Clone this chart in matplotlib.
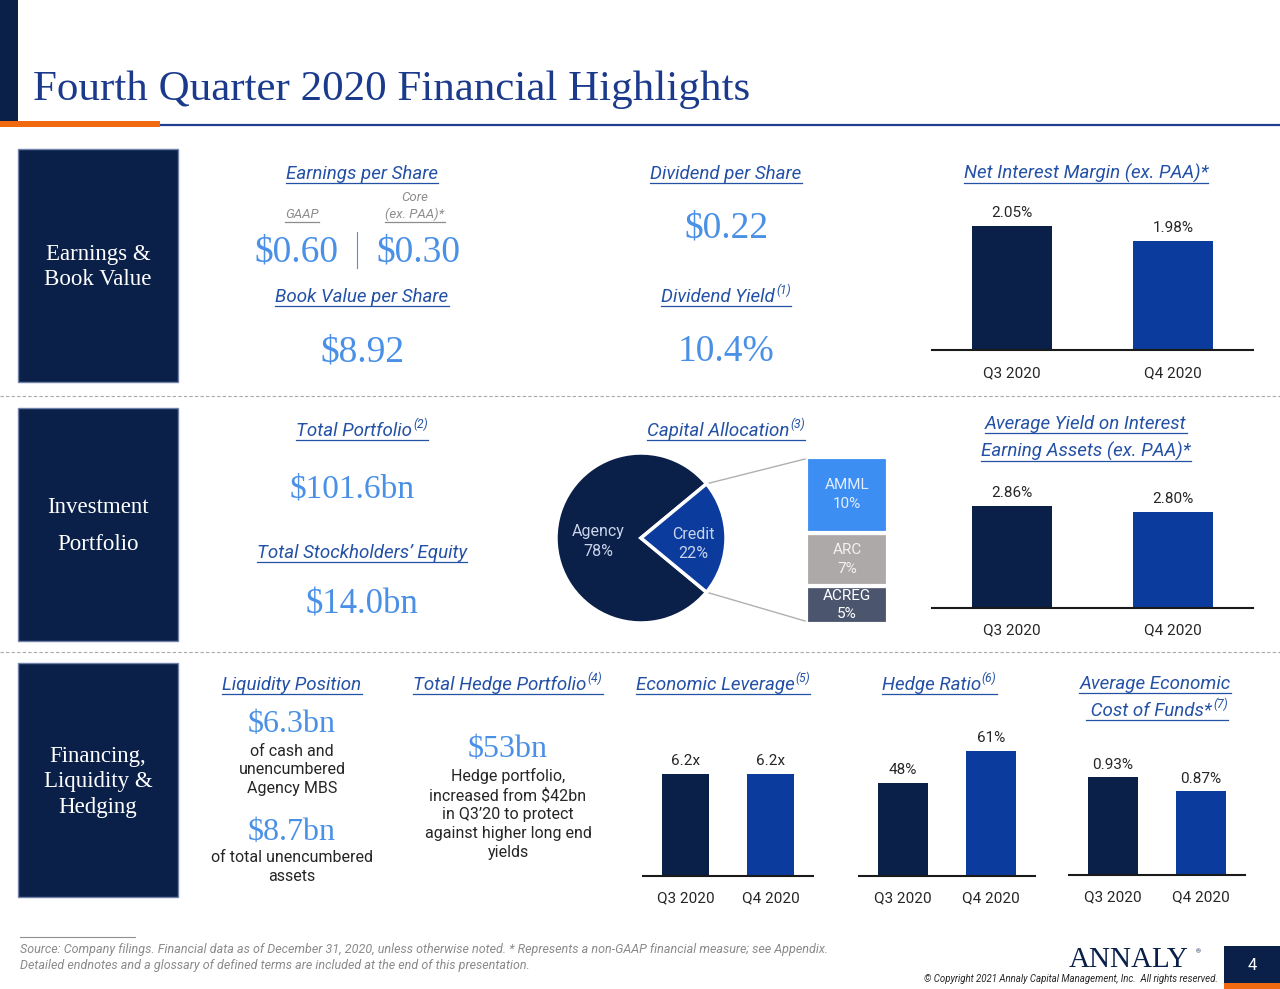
import math
import matplotlib
matplotlib.use('Agg')
import matplotlib.pyplot as plt
from matplotlib.patches import Rectangle

W, H = 1280, 989

NAVY = '#0a2049'
BLUE = '#0b3b9c'
HEAD = '#2451a6'
VALUE = '#4a90e6'
TITLE = '#1b3a8c'
ORANGE = '#f26a10'
TEXT = '#262626'
GRAY = '#8c8c8c'

SANS = ['Roboto', 'DejaVu Sans']
SERIF = ['Liberation Serif', 'DejaVu Serif']

# data
quarters = ['Q3 2020', 'Q4 2020']
nim = [2.05, 1.98]
avg_yield = [2.86, 2.80]
leverage = [6.2, 6.2]
hedge_ratio = [48, 61]
cost_funds = [0.93, 0.87]

alloc_labels = ['Agency', 'Credit']
alloc_values = [78, 22]
credit_labels = ['AMML', 'ARC', 'ACREG']
credit_values = [10, 7, 5]
credit_colors = ['#3d8ef2', '#ada9a8', '#4b566e']
credit_text = ['#e3edff', '#f2f2f2', '#ffffff']

fig = plt.figure(figsize=(W / 100, H / 100), dpi=100)
bg = fig.add_axes([0, 0, 1, 1])
bg.set_xlim(0, W)
bg.set_ylim(H, 0)
bg.axis('off')
r = fig.canvas.get_renderer()


def px_axes(x0, y0, x1, y1):
    return fig.add_axes([x0 / W, 1 - y1 / H, (x1 - x0) / W, (y1 - y0) / H])


def width_of(t):
    return t.get_window_extent(r).width


def heading(x, y, main, sup=None, size=13.5, color=HEAD, under=True):
    t = bg.text(0, y, main, fontsize=size, style='italic', color=color,
                family=SANS, va='baseline')
    w = width_of(t)
    ws = 0
    s = None
    if sup:
        s = bg.text(0, y - size * 0.6, sup, fontsize=size * 0.65, style='italic',
                    color=color, family=SANS, va='baseline')
        ws = width_of(s) + 1
    x0 = x - (w + ws) / 2
    t.set_x(x0)
    if s is not None:
        s.set_x(x0 + w + 1)
    if under:
        bg.plot([x0, x0 + w + ws], [y + 3.5, y + 3.5], color=color, lw=0.9)


def value(x, y, s, size=27):
    bg.text(x, y, s, fontsize=size, color=VALUE, family=SERIF,
            ha='center', va='baseline')


def body(x, y, s, size=11.5):
    bg.text(x, y, s, fontsize=size, color=TEXT, family=SANS, ha='center',
            va='center', linespacing=1.33)


def bar_chart(x0, x1, base, ylim, vals, fmt, width, pad=11):
    ax = px_axes(x0, base - 150, x1, base)
    xs = list(range(len(vals)))
    bars = ax.bar(xs, vals, width=width, color=[NAVY, BLUE])
    ax.set_xlim(-0.5, len(vals) - 0.5)
    ax.set_ylim(*ylim)
    for sp in ['top', 'right', 'left']:
        ax.spines[sp].set_visible(False)
    ax.spines['bottom'].set_linewidth(1.5)
    ax.spines['bottom'].set_color('#1a1a1a')
    ax.set_yticks([])
    ax.set_xticks(xs, quarters)
    ax.tick_params(axis='x', length=0, pad=pad, labelsize=11, labelcolor=TEXT)
    for lab in ax.get_xticklabels():
        lab.set_family(SANS)
    for b, v in zip(bars, vals):
        ax.annotate(fmt.format(v), (b.get_x() + b.get_width() / 2, v),
                    xytext=(0, 4), textcoords='offset points', ha='center',
                    va='bottom', fontsize=11, color=TEXT, family=SANS)
    ax.patch.set_alpha(0)
    return ax


# header band
bg.add_patch(Rectangle((0, 0), 18, 121, color=NAVY, lw=0))
bg.plot([160, W], [124.5, 124.5], color='#1f3f8f', lw=1.6, solid_capstyle='butt')
bg.add_patch(Rectangle((0, 121), 160, 6, color=ORANGE, lw=0))
bg.text(33, 100, 'Fourth Quarter 2020 Financial Highlights', fontsize=31,
        color=TITLE, family=SERIF, va='baseline')

# section boxes
sections = [
    (149, 382, 'Earnings &\nBook Value', 1.26, 267),
    (408, 641, 'Investment\nPortfolio', 1.98, 526),
    (663, 897, 'Financing,\nLiquidity &\nHedging', 1.31, 782),
]
for y0, y1, label, ls, yc in sections:
    bg.add_patch(Rectangle((18, y0), 160, y1 - y0, facecolor=NAVY,
                           edgecolor='#7182a8', lw=1))
    bg.text(98, yc, label, fontsize=16.5, color='white', family=SERIF,
            ha='center', va='center', linespacing=ls)

for y in [396, 652]:
    bg.plot([0, W], [y, y], color='#a8a8a8', lw=0.8, ls=(0, (3, 2)))

# row 1
heading(362, 179, 'Earnings per Share')
bg.text(415, 201, 'Core', fontsize=9.5, style='italic', color=GRAY,
        family=SANS, ha='center', va='baseline')
heading(302, 218, 'GAAP', size=9.5, color=GRAY)
heading(415, 218, '(ex. PAA)*', size=9.5, color=GRAY)
value(296, 262, '$0.60')
value(418, 262, '$0.30')
bg.plot([357, 357], [232, 268], color=VALUE, lw=0.8)
heading(362, 302, 'Book Value per Share')
value(362, 361, '$8.92')

heading(726, 179, 'Dividend per Share')
value(726, 238, '$0.22')
heading(726, 302, 'Dividend Yield', '(1)')
value(726, 361, '10.4%')

heading(1086, 179, 'Net Interest Margin (ex. PAA)*')
bar_chart(932, 1253, 350, (1.47, 1.47 + 150 / 214), nim, '{:.2f}%', 0.5,
          pad=12)

# row 2
heading(362, 436, 'Total Portfolio', '(2)')
value(352, 497, '$101.6bn', size=24)
heading(362, 558, 'Total Stockholders\u2019 Equity')
value(362, 614, '$14.0bn', size=25)

heading(726, 436, 'Capital Allocation', '(3)')
half = alloc_values[1] * 3.6 / 2
pax = px_axes(556, 453, 726, 623)
pax.pie(alloc_values, colors=[NAVY, BLUE], startangle=half, counterclock=True,
        wedgeprops=dict(edgecolor='white', linewidth=2.5))
pax.set_xlim(-1, 1)
pax.set_ylim(-1, 1)
pax.text(-0.5, -0.04, f'{alloc_labels[0]}\n{alloc_values[0]}%', fontsize=11.5,
         color='#c9d4ea', family=SANS, ha='center', va='center', linespacing=1.35)
pax.text(0.62, -0.07, f'{alloc_labels[1]}\n{alloc_values[1]}%', fontsize=11.5,
         color='#c9d4ea', family=SANS, ha='center', va='center', linespacing=1.35)

cx, cy, rad = 641, 538, 85
a = math.radians(half)
bg.plot([cx + rad * math.cos(a), 805], [cy - rad * math.sin(a), 459],
        color='#b0b0b0', lw=1)
bg.plot([cx + rad * math.cos(a), 805], [cy + rad * math.sin(a), 621],
        color='#b0b0b0', lw=1)

sax = px_axes(806, 457, 888, 624)
bottom = 0
for lab, v, c, tc in reversed(list(zip(credit_labels, credit_values,
                                        credit_colors, credit_text))):
    sax.bar(0, v, bottom=bottom, width=1, color=c, edgecolor='white', linewidth=3)
    sax.text(0, bottom + v / 2, f'{lab}\n{v}%', fontsize=11, color=tc,
             family=SANS, ha='center', va='center', linespacing=1.45)
    bottom += v
sax.set_xlim(-0.5, 0.5)
sax.set_ylim(0, sum(credit_values))
sax.axis('off')

heading(1086, 429, 'Average Yield on Interest')
heading(1086, 457, 'Earning Assets (ex. PAA)*')
bar_chart(932, 1253, 608, (1.84, 1.84 + 150 / 100), avg_yield, '{:.2f}%', 0.5)

# row 3
heading(292, 690, 'Liquidity Position')
value(292, 732, '$6.3bn', size=23)
body(292, 770, 'of cash and\nunencumbered\nAgency MBS')
value(292, 840, '$8.7bn', size=23)
body(292, 867, 'of total unencumbered\nassets')

heading(508, 690, 'Total Hedge Portfolio', '(4)')
value(508, 757, '$53bn', size=23)
body(508, 814, 'Hedge portfolio,\nincreased from $42bn\nin Q3\u201920 to protect\n'
     'against higher long end\nyields')

heading(723, 690, 'Economic Leverage', '(5)')
bar_chart(643, 813, 876, (0, 150 / (102 / 6.2)), leverage, '{:.1f}x', 0.55)

heading(939, 690, 'Hedge Ratio', '(6)')
bar_chart(859, 1035, 876, (10.2, 10.2 + 150 / 2.46), hedge_ratio, '{:d}%', 0.56)

heading(1155, 689, 'Average Economic')
heading(1157, 716, ' Cost of Funds*', '(7)')
bar_chart(1069, 1245, 875, (0.51, 0.51 + 150 / 233), cost_funds, '{:.2f}%', 0.56)

# footer
bg.plot([20, 135], [937, 937], color='#909090', lw=0.8)
bg.text(20, 950, 'Source: Company filings. Financial data as of December 31, 2020, '
        'unless otherwise noted. * Represents a non-GAAP financial measure; see Appendix.',
        fontsize=9, style='italic', color='#8a8a8a', family=SANS, va='center')
bg.text(20, 966, 'Detailed endnotes and a glossary of defined terms are included '
        'at the end of this presentation.',
        fontsize=9, style='italic', color='#8a8a8a', family=SANS, va='center')
bg.text(1129, 967, 'ANNALY', fontsize=21, color=NAVY, family=SERIF,
        ha='center', va='baseline')
bg.text(1198, 953, '\u00ae', fontsize=4.5, color=NAVY, family=SANS, ha='center')
bg.text(1218, 982, '\u00a9 Copyright 2021 Annaly Capital Management, Inc.  '
        'All rights reserved.', fontsize=6.9, style='italic', color=TEXT,
        family=SANS, ha='right', va='baseline')
bg.add_patch(Rectangle((1224, 946), 56, 37, color=NAVY, lw=0))
bg.add_patch(Rectangle((1224, 983), 56, 6, color=ORANGE, lw=0))
bg.text(1252, 966, '4', fontsize=12, color='white', family=SANS,
        ha='center', va='center')

fig.savefig('out.png', dpi=100)
